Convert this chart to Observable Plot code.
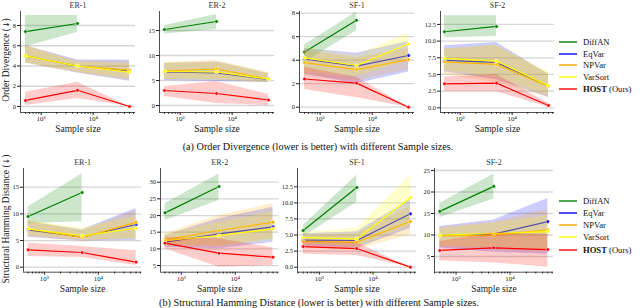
<!DOCTYPE html>
<html><head><meta charset="utf-8">
<script src="https://cdn.jsdelivr.net/npm/d3@7"></script>
<script src="https://cdn.jsdelivr.net/npm/@observablehq/plot@0.6"></script>
<style>
body{margin:0;background:#fff;}
#root{position:relative;width:640px;height:308px;overflow:hidden;font-family:"Liberation Serif",serif;color:#111;}
.pan{position:absolute;}
.cap{position:absolute;font-size:10.2px;white-space:nowrap;transform:translate(-50%,-50%);}
.ylab{position:absolute;font-size:9.5px;white-space:nowrap;transform:translate(-50%,-50%) rotate(-90deg);}
.arr{font-family:"DejaVu Sans",sans-serif;font-size:8px;}
.leg{position:absolute;font-size:8.6px;white-space:nowrap;line-height:10px;}
.legline{position:absolute;height:2px;width:18px;opacity:0.7;}
</style></head><body><div id="root"></div>
<script>
const sizes = [500, 5000, 50000];
const methods = ["DiffAN", "EqVar", "NPVar", "VarSort", "HOST (Ours)"];
const colors = ["#008000", "#0000ff", "#ffa500", "#ffff00", "#ff0000"];
const xMajor = [1000, 10000];
const xTickLabels = ["10³", "10⁴"];

// Order Divergence (top row): mean / lower / upper per method at sizes
const odEr1Mean = [[7.4, 8.2, null], [5.0, 4.0, 3.5], [5.0, 4.0, 3.6], [5.0, 4.0, 3.4], [0.6, 1.6, 0.0]];
const odEr1Lo   = [[5.9, 7.3, null], [4.3, 3.3, 2.5], [4.3, 3.3, 2.6], [4.3, 3.4, 2.7], [0.1, 0.8, 0.0]];
const odEr1Hi   = [[9.0, 9.0, null], [6.0, 4.6, 4.6], [6.0, 4.5, 4.5], [6.0, 4.4, 4.2], [1.4, 2.4, 0.0]];

const odEr2Mean = [[15.2, 16.8, null], [6.7, 6.5, 5.2], [6.9, 7.3, 5.3], [6.8, 6.7, 5.3], [3.0, 2.4, 1.1]];
const odEr2Lo   = [[14.3, 15.2, null], [5.0, 4.8, 4.6], [5.2, 5.2, 4.6], [5.2, 5.0, 4.7], [1.8, 0.4, 0.0]];
const odEr2Hi   = [[16.0, 18.2, null], [8.4, 8.7, 6.4], [8.6, 9.0, 6.6], [8.5, 8.6, 6.5], [3.8, 4.8, 2.2]];

const odSf1Mean = [[4.7, 7.4, null], [4.1, 3.5, 4.4], [3.8, 3.2, 4.05], [4.2, 3.55, 5.4], [2.4, 2.05, 0.0]];
const odSf1Lo   = [[3.8, 6.5, null], [2.8, 2.0, 3.0], [2.7, 2.2, 3.2], [3.0, 2.6, 4.0], [1.5, 0.8, 0.0]];
const odSf1Hi   = [[5.3, 8.1, null], [5.0, 4.6, 5.6], [4.8, 4.2, 5.0], [5.1, 4.4, 6.3], [3.4, 2.55, 0.0]];

const odSf2Mean = [[11.4, 12.2, null], [7.1, 6.8, 3.3], [6.9, 6.5, 3.2], [7.4, 7.0, 3.35], [3.6, 3.7, 0.35]];
const odSf2Lo   = [[10.5, 10.7, null], [5.4, 4.2, 1.6], [5.0, 3.8, 1.5], [5.6, 4.5, 1.8], [2.4, 2.4, 0.1]];
const odSf2Hi   = [[13.8, 13.8, null], [9.3, 9.8, 5.0], [8.8, 9.3, 5.2], [8.8, 9.4, 5.3], [4.6, 5.0, 0.7]];

// Structural Hamming Distance (bottom row)
const shdEr1Mean = [[9.5, 14.0, null], [7.0, 5.7, 8.0], [7.2, 5.6, 8.4], [7.2, 5.9, 7.3], [3.25, 2.75, 0.95]];
const shdEr1Lo   = [[8.2, 8.5, null], [5.6, 4.9, 5.0], [5.7, 4.8, 5.4], [5.9, 5.2, 5.2], [2.0, 1.8, 0.3]];
const shdEr1Hi   = [[11.3, 17.5, null], [8.5, 7.0, 11.0], [8.8, 6.8, 10.7], [8.6, 7.4, 9.5], [4.5, 3.9, 3.1]];

const shdEr2Mean = [[20.8, 28.7, null], [12.0, 14.5, 16.6], [12.7, 15.5, 18.0], [12.5, 14.0, 16.0], [11.7, 8.7, 7.5]];
const shdEr2Lo   = [[18.5, 24.5, null], [10.5, 10.0, 12.0], [11.0, 11.0, 13.0], [10.8, 10.5, 12.5], [10.0, 4.5, 5.0]];
const shdEr2Hi   = [[23.5, 32.5, null], [14.0, 19.0, 22.5], [14.5, 20.0, 23.5], [14.2, 18.0, 21.0], [13.3, 13.0, 10.3]];

const shdSf1Mean = [[5.7, 12.4, null], [4.2, 4.15, 8.3], [4.0, 3.9, 7.1], [4.6, 4.4, 10.8], [3.2, 2.9, 0.0]];
const shdSf1Lo   = [[4.7, 10.1, null], [3.2, 3.0, 6.0], [3.0, 2.8, 5.0], [3.6, 3.2, 6.5], [2.0, 1.8, 0.0]];
const shdSf1Hi   = [[6.5, 14.3, null], [5.2, 5.5, 10.5], [5.0, 5.2, 9.5], [5.4, 6.0, 14.3], [4.0, 3.8, 0.0]];

const shdSf2Mean = [[15.5, 21.3, null], [9.9, 10.2, 13.1], [9.8, 9.9, 11.2], [10.0, 10.3, 10.8], [6.4, 7.0, 6.6]];
const shdSf2Lo   = [[14.0, 18.4, null], [7.0, 6.0, 5.5], [7.2, 6.5, 6.0], [7.5, 7.0, 6.5], [4.0, 3.5, 2.5]];
const shdSf2Hi   = [[17.3, 24.2, null], [12.0, 13.5, 18.5], [11.8, 13.0, 16.0], [11.5, 12.8, 14.5], [8.5, 10.5, 10.2]];

const tickInt = [0, 2, 4, 6, 8];
const tick5a = [0, 5, 10, 15];
const tick25 = [0, 2.5, 5, 7.5, 10, 12.5];
const tick5b = [5, 10, 15, 20, 25, 30];
const tick5c = [5, 10, 15, 20, 25];

const root = document.getElementById("root");

// frame layout (page px) and scale calibration
function panel(cfg, mean, lo, hi) {
  const ml = 32, mr = 3, mt = 14, mb = 30;
  const xd = [500 * 10 ** ((cfg.L - cfg.px) / cfg.d), 500 * 10 ** ((cfg.R - cfg.px) / cfg.d)];
  const yd = [(cfg.y0 - cfg.B) / cfg.k, (cfg.y0 - cfg.T) / cfg.k];
  const rows = [];
  methods.forEach((m, i) => sizes.forEach((s, j) => {
    if (mean[i][j] != null) rows.push({m, i, s, v: mean[i][j], lo: lo[i][j], hi: hi[i][j]});
  }));
  const minor = [];
  for (const e of [100, 1000, 10000]) for (let f = 2; f <= 9; f++) {
    const t = e * f; if (t >= xd[0] && t <= xd[1]) minor.push(t);
  }
  const marks = [Plot.gridY(cfg.ticks, {stroke: "#d6d6d6", strokeOpacity: 1, strokeWidth: 1.3})];
  methods.forEach((m, i) => {
    const r = rows.filter(d => d.i === i);
    marks.push(Plot.areaY(r, {x: "s", y1: "lo", y2: "hi", fill: colors[i], fillOpacity: 0.2}));
    marks.push(Plot.line(r, {x: "s", y: "v", stroke: colors[i], strokeWidth: 1.2}));
    marks.push(Plot.dot(r, {x: "s", y: "v", r: 1.8, fill: colors[i], stroke: "white", strokeWidth: 0.5}));
  });
  marks.push(Plot.ruleX([xd[0]], {stroke: "#222", strokeWidth: 0.8}));
  marks.push(Plot.ruleY([yd[0]], {stroke: "#222", strokeWidth: 0.8}));
  marks.push(Plot.axisY(cfg.ticks, {tickSize: 3, tickPadding: 1.5, fontSize: 6.5, tickFormat: cfg.fmt, label: null}));
  marks.push(Plot.axisX(xMajor, {tickSize: 3, tickPadding: 1, fontSize: 7, tickFormat: d => xTickLabels[xMajor.indexOf(d)], label: null}));
  marks.push(Plot.axisX(minor, {tickSize: 1.8, tickFormat: () => "", label: null}));
  marks.push(Plot.text([cfg.title], {frameAnchor: "top", lineAnchor: "middle", dy: -6, fontSize: 8, fill: "#333"}));
  marks.push(Plot.text(["Sample size"], {frameAnchor: "bottom", lineAnchor: "middle", dy: 16.5, fontSize: 9.5}));
  const svg = Plot.plot({
    width: cfg.R - cfg.L + ml + mr, height: cfg.B - cfg.T + mt + mb,
    marginLeft: ml, marginRight: mr, marginTop: mt, marginBottom: mb,
    x: {type: "log", domain: xd, label: null},
    y: {domain: yd, label: null},
    style: {fontFamily: "Liberation Serif, serif", background: "transparent", overflow: "visible", color: "#222"},
    marks
  });
  const div = document.createElement("div");
  div.className = "pan";
  div.style.left = (cfg.L - ml) + "px";
  div.style.top = (cfg.T - mt) + "px";
  div.appendChild(svg);
  root.appendChild(div);
}

const T1 = 11, B1 = 112, T2 = 168, B2 = 271.7;
panel({title: "ER-1", L: 20, R: 135, T: T1, B: B1, px: 25, d: 52, y0: 106, k: 10.125, ticks: tickInt, fmt: d3.format("d")}, odEr1Mean, odEr1Lo, odEr1Hi);
panel({title: "ER-2", L: 159, R: 274, T: T1, B: B1, px: 164, d: 52, y0: 105, k: 5, ticks: tick5a, fmt: d3.format("d")}, odEr2Mean, odEr2Lo, odEr2Hi);
panel({title: "SF-1", L: 299, R: 414, T: T1, B: B1, px: 304, d: 52, y0: 106.7, k: 11.75, ticks: tickInt, fmt: d3.format("d")}, odSf1Mean, odSf1Lo, odSf1Hi);
panel({title: "SF-2", L: 440, R: 554, T: T1, B: B1, px: 444, d: 52, y0: 107.3, k: 6.67, ticks: tick25, fmt: d3.format(".1f")}, odSf2Mean, odSf2Lo, odSf2Hi);

panel({title: "ER-1", L: 22.7, R: 141, T: T2, B: B2, px: 27.3, d: 54, y0: 266.7, k: 5.333, ticks: tick5a, fmt: d3.format("d")}, shdEr1Mean, shdEr1Lo, shdEr1Hi);
panel({title: "ER-2", L: 159.5, R: 278, T: T2, B: B2, px: 164, d: 54, y0: 281.7, k: 3.333, ticks: tick5b, fmt: d3.format("d")}, shdEr2Mean, shdEr2Lo, shdEr2Hi);
panel({title: "SF-1", L: 297, R: 416, T: T2, B: B2, px: 302.7, d: 53.6, y0: 266.7, k: 6.43, ticks: tick25, fmt: d3.format(".1f")}, shdSf1Mean, shdSf1Lo, shdSf1Hi);
panel({title: "SF-2", L: 434, R: 553, T: T2, B: B2, px: 439.3, d: 54, y0: 277.5, k: 4.3, ticks: tick5c, fmt: d3.format("d")}, shdSf2Mean, shdSf2Lo, shdSf2Hi);

function addText(cls, html, x, y) {
  const el = document.createElement("div");
  el.className = cls; el.innerHTML = html;
  el.style.left = x + "px"; el.style.top = y + "px";
  root.appendChild(el);
}
addText("ylab", "Order Divergence (<span class='arr'>↓</span>)", 6, 60);
addText("ylab", "Structural Hamming Distance (<span class='arr'>↓</span>)", 6, 219);
addText("cap", "(a) Order Divergence (lower is better) with different Sample sizes.", 318, 146);
addText("cap", "(b) Structural Hamming Distance (lower is better) with different Sample sizes.", 319, 302);

function legend(y0, step) {
  methods.forEach((m, i) => {
    const ln = document.createElement("div");
    ln.className = "legline";
    ln.style.background = colors[i];
    ln.style.left = "559px"; ln.style.top = (y0 + i * step - 1) + "px";
    root.appendChild(ln);
    const t = document.createElement("div");
    t.className = "leg";
    t.style.left = "583px"; t.style.top = (y0 + i * step - 5) + "px";
    if (i === 4) t.innerHTML = "<b>HOST</b> (Ours)"; else t.textContent = m;
    root.appendChild(t);
  });
}
legend(41.7, 11.8);
legend(200.7, 12.2);
</script></body></html>
